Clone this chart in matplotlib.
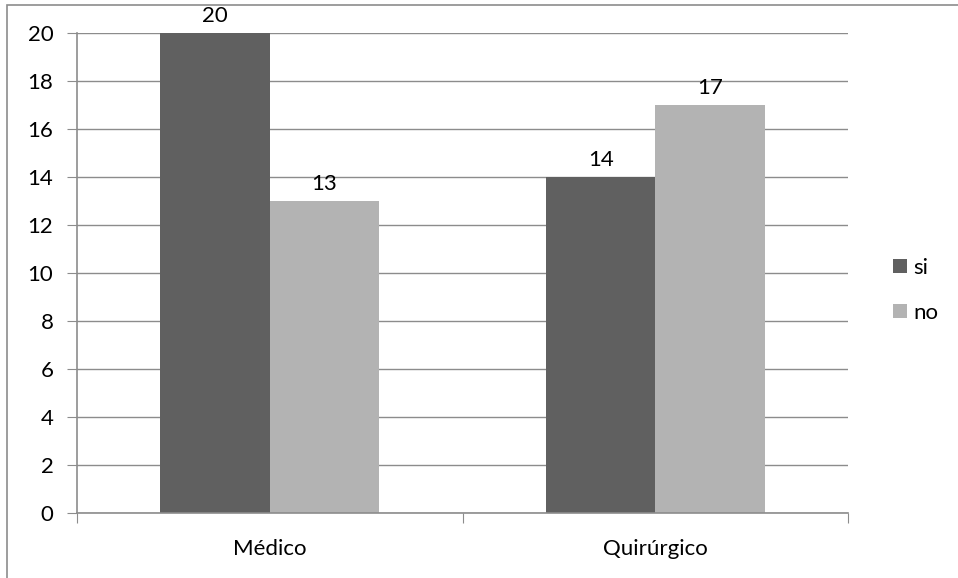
import numpy as np
import matplotlib.pyplot as plt
from matplotlib.patches import Rectangle

plt.rcParams['font.family'] = ['Lato', 'DejaVu Sans']

categories = ['Médico', 'Quirúrgico']
si_values = [20, 14]
no_values = [13, 17]
y_ticks = [0, 2, 4, 6, 8, 10, 12, 14, 16, 18, 20]

dark = '#606060'
light = '#b3b3b3'
line_gray = '#8c8c8c'
fs = 16

fig = plt.figure(figsize=(9.58, 5.78), dpi=100)
ax = fig.add_axes([0.0804, 0.1125, 0.805, 0.8305])

# outer chart frame
fig.patches.append(Rectangle((0.0073, -0.1), 1.1, 1.0913, transform=fig.transFigure,
                             fill=False, edgecolor=line_gray, linewidth=1.2))

x = np.arange(len(categories))
w = 0.284
b1 = ax.bar(x - w / 2, si_values, w, color=dark, label='si', zorder=3)
b2 = ax.bar(x + w / 2, no_values, w, color=light, label='no', zorder=3)

for bars, vals in ((b1, si_values), (b2, no_values)):
    for rect, v in zip(bars, vals):
        ax.annotate(str(v), (rect.get_x() + rect.get_width() / 2, v),
                    xytext=(0, 12.5), textcoords='offset points',
                    ha='center', va='center', fontsize=fs, annotation_clip=False)

ax.set_xlim(-0.5, 1.5)
ax.set_ylim(0, 20)
ax.set_yticks(y_ticks)
ax.set_xticks([-0.5, 0.5, 1.5], minor=False)
ax.set_xticklabels([])
ax.set_xticks(x, minor=True)
ax.set_xticklabels(categories, minor=True, fontsize=fs)
ax.tick_params(axis='x', which='minor', length=0, pad=19)
ax.tick_params(axis='x', which='major', length=7, color=line_gray, direction='out')
ax.tick_params(axis='y', length=7, color=line_gray, labelsize=fs, pad=10)

ax.yaxis.grid(True, color=line_gray, linewidth=1, zorder=0)
for s in ('top', 'right'):
    ax.spines[s].set_visible(False)
for s in ('left', 'bottom'):
    ax.spines[s].set_color(line_gray)
    ax.spines[s].set_linewidth(1.2)
    ax.spines[s].set_zorder(4)

ax.legend(loc='center left', bbox_to_anchor=(1.047, 0.4635), frameon=False, fontsize=fs,
          handlelength=0.6, handleheight=0.6, handletextpad=0.3, labelspacing=1.1,
          borderaxespad=0)

fig.savefig('out.png', dpi=100)
